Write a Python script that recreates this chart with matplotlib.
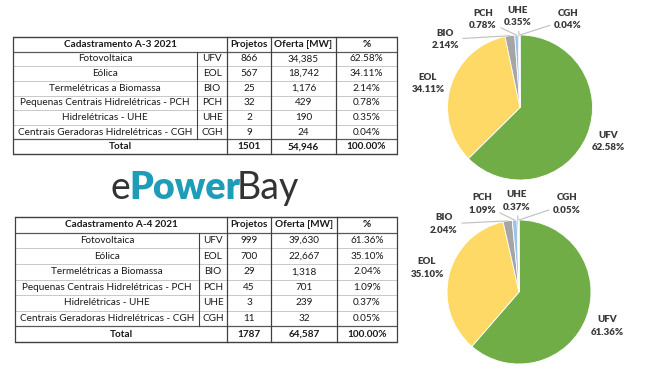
import numpy as np
import matplotlib
matplotlib.use('Agg')
import matplotlib.pyplot as plt

# table / pie data
names = ["Fotovoltaica", "Eólica", "Termelétricas a Biomassa",
         "Pequenas Centrais Hidrelétricas - PCH", "Hidrelétricas - UHE",
         "Centrais Geradoras Hidrelétricas - CGH"]
codes = ["UFV", "EOL", "BIO", "PCH", "UHE", "CGH"]

a3_projetos = [866, 567, 25, 32, 2, 9]
a3_oferta = [34385, 18742, 1176, 429, 190, 24]
a3_pct = [62.58, 34.11, 2.14, 0.78, 0.35, 0.04]

a4_projetos = [999, 700, 29, 45, 3, 11]
a4_oferta = [39630, 22667, 1318, 701, 239, 32]
a4_pct = [61.36, 35.10, 2.04, 1.09, 0.37, 0.05]

pie_colors = ['#70AD47', '#FFD966', '#A5A5A5', '#9DC3E6', '#5B9BD5', '#ED7D31']

W, H = 657, 383
FONT = 'Lato'
TXT = '#1a1a1a'

fig = plt.figure(figsize=(W / 100, H / 100), dpi=100)
ax = fig.add_axes([0, 0, 1, 1])


def Y(y):
    # image rows (top-down) to axes units (bottom-up)
    return H - y


def draw_table(title, projetos, oferta, pct, cols, top, bottom):
    n = len(names) + 2
    rh = (bottom - top) / n
    x0, x1 = cols[0], cols[-1]
    for i in range(n + 1):
        y = top + i * rh
        if i in (0, n):
            c, lw = '#404040', 1.0
        elif i in (1, n - 1):
            c, lw = '#595959', 0.9
        else:
            c, lw = '#c8c8c8', 0.7
        ax.plot([x0, x1], [Y(y), Y(y)], color=c, lw=lw, solid_capstyle='butt')
    for j, x in enumerate(cols):
        if j == 1:
            ax.plot([x, x], [Y(top + rh), Y(bottom - rh)], color='#404040', lw=0.8)
        else:
            ax.plot([x, x], [Y(top), Y(bottom)], color='#404040', lw=0.9)

    cx = [(cols[i] + cols[i + 1]) / 2 for i in range(5)]
    span = (cols[0] + cols[2]) / 2
    fs = 7.2

    def cell(x, row, s, bold=False):
        ax.text(x, Y(top + (row + 0.5) * rh), s, ha='center', va='center',
                fontsize=fs, family=FONT, color=TXT,
                fontweight='bold' if bold else 'normal')

    cell(span, 0, title, True)
    cell(cx[2], 0, "Projetos", True)
    cell(cx[3], 0, "Oferta [MW]", True)
    cell(cx[4], 0, "%", True)
    for i in range(len(names)):
        cell(cx[0], i + 1, names[i])
        cell(cx[1], i + 1, codes[i])
        cell(cx[2], i + 1, f"{projetos[i]}")
        cell(cx[3], i + 1, f"{oferta[i]:,}")
        cell(cx[4], i + 1, f"{pct[i]:.2f}%")
    cell(span, n - 1, "Total", True)
    cell(cx[2], n - 1, f"{sum(projetos)}", True)
    cell(cx[3], n - 1, f"{sum(oferta):,}", True)
    cell(cx[4], n - 1, f"{100 * sum(oferta) / sum(oferta):.2f}%", True)


# label offsets from pie centre, in pixels (x right, y down)
label_off = [(88, 34), (-92, -24), (-75, -68), (-37, -88), (-2, -91), (48, -88)]


def draw_pie(oferta, pct, cx, cy, r):
    wedges, _ = ax.pie(oferta, colors=pie_colors, startangle=90, counterclock=False,
                       center=(cx, Y(cy)), radius=r, frame=True,
                       wedgeprops=dict(edgecolor='white', linewidth=0.6))
    kw = dict(ha='center', va='center', fontsize=7, family=FONT, fontweight='heavy',
              color='#3a3a3a', linespacing=1.45)
    for k, (w, code, p) in enumerate(zip(wedges, codes, pct)):
        lx, ly = cx + label_off[k][0], cy + label_off[k][1]
        s = f"{code}\n{p:.2f}%"
        if k < 2:
            ax.text(lx, Y(ly), s, **kw)
        else:
            ang = np.deg2rad((w.theta1 + w.theta2) / 2)
            px, py = cx + r * np.cos(ang), Y(cy) + r * np.sin(ang)
            ax.annotate(s, xy=(px, py), xytext=(lx, Y(ly)),
                        arrowprops=dict(arrowstyle='-', color='#bfbfbf', lw=0.8,
                                        shrinkA=1, shrinkB=0), **kw)


draw_table("Cadastramento A-3 2021", a3_projetos, a3_oferta, a3_pct,
           [13, 197, 227, 271, 336, 397], 37, 154)
draw_table("Cadastramento A-4 2021", a4_projetos, a4_oferta, a4_pct,
           [15, 199, 227, 271, 337, 397], 217, 342)

draw_pie(a3_oferta, a3_pct, 520, 107.5, 72.5)
draw_pie(a4_oferta, a4_pct, 519, 292, 72)

# logo
fig.canvas.draw()
rend = fig.canvas.get_renderer()
x = 110
for part, col, wt in [("e", '#333333', 'normal'), ("Power", '#1E9DB8', 'heavy'),
                      ("Bay", '#333333', 'normal')]:
    t = ax.text(x, Y(199), part, fontsize=27, family=FONT, fontweight=wt,
                color=col, ha='left', va='baseline')
    bb = t.get_window_extent(rend)
    x += bb.width * 0.97

ax.set_xlim(0, W)
ax.set_ylim(0, H)
ax.axis('off')

fig.savefig('out.png', dpi=100)
